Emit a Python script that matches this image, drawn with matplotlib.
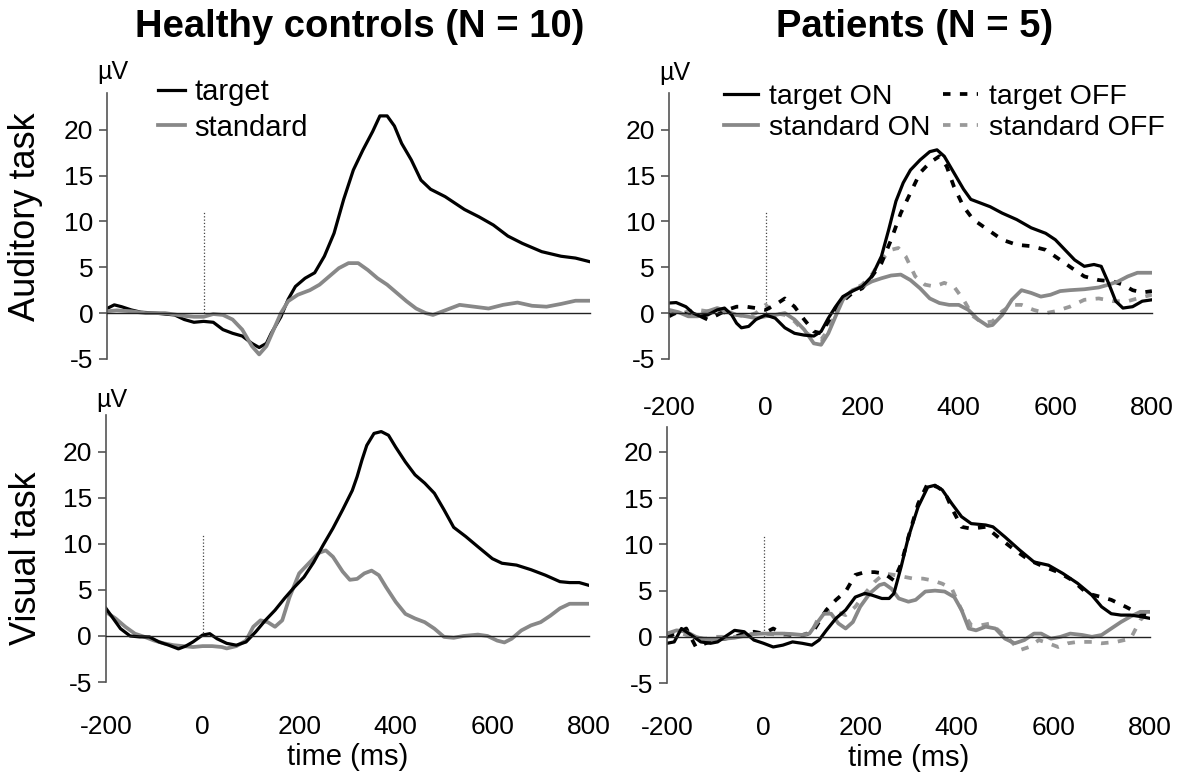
import numpy as np
import matplotlib
matplotlib.use("Agg")
import matplotlib.pyplot as plt
from matplotlib.ticker import FixedLocator
from matplotlib.lines import Line2D

plt.rcParams['font.family'] = ['Liberation Sans', 'DejaVu Sans']
plt.rcParams['axes.unicode_minus'] = False

# ================================
# Dados (µV)
# ================================

# Controles - tarefa auditiva
hc_aud_target_t = [-200, -185, -170, -150, -130, -100, -60, -40, -20, 0, 20, 40, 60, 80, 100, 115, 130,
                   140, 160, 175, 190, 210, 230, 250, 270, 290, 310, 330, 350, 365, 380, 395, 410, 430,
                   450, 470, 500, 520, 540, 570, 600, 630, 660, 700, 740, 770, 800]
hc_aud_target = [0.5, 0.9, 0.7, 0.35, 0.1, 0.0, -0.2, -0.7, -1.0, -0.9, -1.0, -1.8, -2.2, -2.5, -3.3, -3.75,
                 -3.3, -2.2, -0.4, 1.5, 2.9, 3.8, 4.4, 6.2, 8.7, 12.4, 15.6, 17.8, 19.8, 21.5, 21.5, 20.4,
                 18.5, 16.7, 14.5, 13.5, 12.7, 12.0, 11.3, 10.5, 9.6, 8.4, 7.6, 6.7, 6.2, 6.0, 5.6]
hc_aud_standard_t = [-200, -180, -150, -120, -80, -40, -20, 0, 20, 40, 60, 80, 100, 115, 130, 145, 160,
                     175, 195, 220, 240, 260, 280, 300, 320, 340, 360, 380, 400, 420, 440, 460, 475,
                     490, 510, 530, 560, 590, 620, 650, 680, 710, 740, 770, 800]
hc_aud_standard = [0.2, 0.3, 0.2, 0.0, 0.0, -0.3, -0.4, -0.4, -0.1, -0.2, -0.7, -1.8, -3.6, -4.5, -3.6,
                   -1.8, 0.0, 1.3, 2.0, 2.5, 3.1, 4.0, 4.9, 5.45, 5.45, 4.7, 3.8, 3.1, 2.2, 1.3, 0.5, 0.0,
                   -0.2, 0.1, 0.5, 0.9, 0.7, 0.5, 0.9, 1.15, 0.8, 0.7, 1.0, 1.35, 1.35]

# Controles - tarefa visual
hc_vis_target_t = [-200, -185, -170, -150, -130, -110, -90, -70, -50, -35, -20, 0, 15, 30, 50, 70, 90,
                   110, 130, 150, 170, 190, 210, 230, 250, 270, 290, 310, 320, 330, 340, 355, 370, 385,
                   400, 420, 440, 460, 480, 500, 520, 545, 570, 600, 620, 650, 680, 710, 740, 760, 780, 800]
hc_vis_target = [3.0, 1.9, 0.8, 0.0, -0.1, -0.1, -0.65, -1.0, -1.4, -1.1, -0.65, 0.1, 0.25, -0.3, -0.8,
                 -1.0, -0.65, 0.45, 1.7, 2.8, 4.1, 5.3, 6.4, 8.0, 9.9, 11.7, 13.7, 15.8, 17.3, 19.1, 20.7,
                 22.0, 22.2, 21.8, 20.5, 18.9, 17.5, 16.6, 15.5, 13.7, 11.8, 10.8, 9.7, 8.4, 7.9, 7.7,
                 7.2, 6.6, 5.9, 5.8, 5.8, 5.5]
hc_vis_standard_t = [-200, -180, -160, -140, -120, -100, -80, -60, -40, -20, 0, 20, 40, 50, 70, 90, 105,
                     120, 135, 150, 165, 180, 200, 220, 240, 255, 270, 290, 305, 320, 335, 350, 365, 380,
                     400, 420, 440, 460, 480, 500, 520, 540, 570, 590, 610, 625, 640, 660, 680, 700, 720,
                     740, 760, 800]
hc_vis_standard = [2.6, 1.9, 1.0, 0.25, -0.1, -0.5, -0.8, -1.0, -1.1, -1.2, -1.1, -1.1, -1.2, -1.35,
                   -1.1, -0.5, 1.0, 1.7, 1.5, 1.0, 1.7, 4.2, 6.8, 7.9, 9.0, 9.3, 8.6, 7.0, 6.1, 6.2, 6.8,
                   7.1, 6.6, 5.3, 3.7, 2.4, 1.9, 1.5, 0.8, -0.1, -0.2, 0.0, 0.15, 0.0, -0.5, -0.7, -0.3,
                   0.6, 1.15, 1.5, 2.2, 3.0, 3.5, 3.5]

# Pacientes - tarefa auditiva
pt_aud_target_on_t = [-200, -185, -165, -150, -135, -120, -100, -85, -70, -60, -50, -35, -20, 0, 20, 40,
                      60, 80, 100, 115, 130, 145, 160, 180, 200, 220, 240, 255, 270, 285, 300, 320, 340,
                      355, 370, 390, 410, 425, 445, 465, 490, 520, 550, 580, 600, 620, 640, 660, 680,
                      695, 710, 725, 740, 760, 780, 800]
pt_aud_target_on = [1.1, 1.15, 0.7, 0.0, -0.35, -0.2, 0.35, 0.55, -0.2, -1.1, -1.6, -1.45, -0.7, -0.2,
                    -0.55, -1.6, -2.2, -2.4, -2.5, -2.0, -0.55, 0.7, 1.8, 2.4, 2.9, 4.0, 6.2, 9.1, 12.2,
                    14.2, 15.6, 16.7, 17.6, 17.8, 17.1, 15.3, 13.5, 12.4, 12.0, 11.6, 10.9, 10.2, 9.3,
                    8.7, 8.0, 6.9, 5.8, 5.1, 5.3, 5.1, 3.3, 1.3, 0.55, 0.7, 1.3, 1.45]
pt_aud_standard_on_t = [-200, -180, -160, -140, -120, -100, -80, -60, -40, -20, 0, 20, 40, 60, 80, 100,
                        115, 130, 145, 160, 180, 200, 220, 240, 260, 280, 300, 320, 340, 360, 380, 400,
                        420, 440, 460, 470, 490, 510, 530, 550, 570, 590, 610, 630, 660, 690, 710, 730,
                        750, 770, 800]
pt_aud_standard_on = [0.35, 0.1, -0.35, -0.35, 0.2, 0.55, 0.2, -0.2, -0.35, -0.55, -0.35, -0.2, 0.0,
                      -0.7, -1.8, -3.3, -3.45, -2.2, -0.35, 1.45, 2.5, 2.9, 3.45, 3.8, 4.1, 4.2, 3.6, 2.7,
                      1.6, 1.1, 0.9, 0.9, 0.35, -0.7, -1.4, -1.3, -0.2, 1.45, 2.5, 2.2, 1.8, 2.0, 2.4,
                      2.5, 2.6, 2.8, 3.1, 3.45, 4.0, 4.4, 4.4]
pt_aud_target_off_t = [-200, -180, -160, -140, -120, -100, -80, -60, -40, -20, 0, 20, 40, 60, 80, 100,
                       115, 130, 145, 160, 180, 200, 220, 240, 260, 280, 300, 320, 340, 360, 375, 390,
                       410, 430, 460, 490, 520, 550, 580, 610, 640, 660, 690, 720, 740, 760, 780, 800]
pt_aud_target_off = [-0.35, 0.2, -0.2, -0.2, -0.7, -0.2, 0.35, 0.7, 0.7, 0.55, 0.35, 0.9, 1.6, 0.7,
                     -0.7, -2.0, -2.2, -0.9, 0.55, 1.3, 2.2, 2.7, 4.0, 5.45, 8.0, 10.9, 13.1, 15.3, 16.4,
                     17.1, 16.0, 13.8, 11.6, 10.2, 9.1, 8.0, 7.45, 7.3, 6.9, 5.8, 4.7, 4.0, 3.6, 3.45,
                     3.1, 2.5, 2.25, 2.4]
pt_aud_standard_off_t = [-200, -180, -160, -140, -120, -100, -80, -60, -40, -20, 0, 20, 40, 60, 80, 100,
                         115, 130, 145, 160, 180, 200, 220, 240, 260, 275, 290, 310, 330, 350, 370, 390,
                         410, 430, 450, 470, 490, 510, 530, 555, 580, 600, 630, 660, 690, 720, 750, 770,
                         800]
pt_aud_standard_off = [0.2, -0.2, 0.2, 0.35, 0.2, 0.2, 0.0, -0.2, -0.35, 0.0, 0.9, 0.0, -0.2, -0.9,
                       -2.0, -2.7, -2.9, -1.8, 0.0, 1.6, 2.5, 3.1, 4.2, 5.8, 6.9, 7.1, 6.2, 4.0, 3.1, 2.9,
                       3.3, 2.9, 1.45, -0.35, -1.1, -0.9, 0.2, 0.9, 0.9, 0.35, 0.0, 0.2, 0.7, 1.45, 1.6,
                       1.3, 1.3, 1.6, 2.0]

# Pacientes - tarefa visual
pt_vis_target_on_t = [-200, -185, -170, -150, -130, -110, -95, -80, -60, -40, -20, 0, 20, 40, 60, 80,
                      100, 115, 130, 150, 170, 190, 210, 225, 245, 260, 270, 285, 300, 320, 340, 355,
                      370, 390, 410, 430, 460, 475, 500, 530, 560, 590, 620, 650, 680, 700, 720, 740,
                      760, 780, 800]
pt_vis_target_on = [-0.7, -0.55, 0.9, 0.2, -0.55, -0.7, -0.55, 0.0, 0.7, 0.55, -0.35, -0.7, -1.1, -0.9,
                     -0.55, -0.7, -0.9, -0.35, 0.7, 2.0, 2.9, 4.3, 4.7, 4.5, 4.15, 4.15, 4.7, 7.6, 10.8,
                     14.05, 16.2, 16.4, 15.9, 14.4, 13.0, 12.25, 12.1, 11.9, 10.8, 9.4, 8.1, 7.75, 6.85,
                     5.8, 4.5, 3.25, 2.5, 2.35, 2.35, 2.2, 2.0]
pt_vis_standard_on_t = [-200, -180, -160, -140, -120, -100, -80, -60, -40, -20, 0, 20, 40, 60, 80, 95,
                        110, 125, 140, 155, 170, 185, 200, 220, 240, 250, 265, 280, 300, 315, 335, 355,
                        375, 395, 410, 425, 440, 460, 480, 500, 520, 540, 560, 575, 595, 615, 635, 660,
                        680, 700, 720, 740, 760, 780, 800]
pt_vis_standard_on = [0.35, 0.7, 0.55, 0.0, -0.3, -0.3, -0.2, -0.1, 0.1, 0.3, 0.35, 0.35, 0.35, 0.3,
                      0.2, 0.35, 1.45, 2.5, 2.5, 1.45, 0.9, 1.6, 3.25, 4.7, 5.6, 5.75, 5.2, 4.15, 3.8,
                      4.0, 4.9, 5.0, 4.9, 4.3, 2.9, 0.9, 0.7, 1.1, 0.9, -0.2, -0.7, -0.35, 0.35, 0.35,
                      -0.2, 0.0, 0.35, 0.2, 0.0, 0.2, 0.9, 1.6, 2.2, 2.7, 2.7]
pt_vis_target_off_t = [-200, -180, -160, -140, -120, -100, -80, -60, -40, -20, 0, 20, 40, 60, 80, 100,
                       130, 150, 170, 190, 210, 230, 250, 270, 285, 300, 320, 340, 360, 375, 390, 410,
                       430, 460, 490, 520, 550, 580, 610, 640, 670, 700, 720, 750, 770, 800]
pt_vis_target_off = [0.0, 0.35, 0.9, -1.1, -0.7, -0.35, -0.2, 0.0, 0.35, 0.55, 0.35, 0.9, 0.35, 0.2,
                     0.2, 0.35, 2.9, 4.0, 4.9, 6.7, 7.0, 7.0, 6.85, 6.1, 7.9, 10.8, 14.4, 16.6, 16.2,
                     15.7, 13.9, 11.9, 11.7, 11.9, 10.6, 9.4, 8.3, 7.6, 7.0, 6.1, 4.7, 4.3, 4.0, 3.25,
                     2.7, 2.2]
pt_vis_standard_off_t = [-200, -180, -160, -140, -120, -100, -80, -60, -40, -20, 0, 40, 80, 100, 115,
                         130, 150, 170, 190, 210, 230, 250, 270, 290, 310, 330, 350, 370, 390, 410, 430,
                         450, 470, 490, 510, 530, 550, 570, 590, 610, 630, 650, 680, 700, 730, 760, 780,
                         800]
pt_vis_standard_off = [0.35, 0.55, 0.2, -0.1, -0.2, 0.0, 0.0, 0.0, 0.2, 0.35, 0.35, 0.2, 0.2, 0.55, 2.2,
                       2.7, 2.7, 2.35, 3.25, 4.7, 5.95, 6.85, 6.7, 6.5, 6.3, 6.3, 6.1, 5.75, 5.2, 2.9,
                       1.25, 1.25, 1.45, 0.55, -0.35, -1.45, -1.1, -0.35, -0.7, -1.1, -0.7, -0.55, -0.55,
                       -0.7, -0.55, -0.2, 1.8, 2.9]

col_titles = ["Healthy controls (N = 10)", "Patients (N = 5)"]
row_titles = ["Auditory task", "Visual task"]
xticks = [-200, 0, 200, 400, 600, 800]
yticks = [-5, 0, 5, 10, 15, 20]

# ================================
# Figura
# ================================

BLACK = '#000000'
GRAY = '#888888'
GRAY_D = '#999999'
LW = 2.3

fig = plt.figure(figsize=(11.84, 7.76), dpi=100)

# posições [esq, base, larg, alt], topo do eixo y, pad dos rótulos de x, posição do "µV"
panels = [
    dict(rect=[0.0904, 0.5374, 0.4079, 0.3428], ytop=24.0, pad=None, uv=(0.012, 1.079)),
    dict(rect=[0.5650, 0.5374, 0.4079, 0.3428], ytop=24.0, pad=60, uv=(0.012, 1.075)),
    dict(rect=[0.0895, 0.1211, 0.4079, 0.3441], ytop=24.0, pad=57, uv=(0.012, 1.056)),
    dict(rect=[0.5633, 0.1198, 0.4079, 0.3299], ytop=22.7, pad=57, uv=None),
]

axes = []
for p in panels:
    ax = fig.add_axes(p['rect'])
    ax.set_xlim(-200, 800)
    ax.set_ylim(-5, p['ytop'])
    for s in ['top', 'right']:
        ax.spines[s].set_visible(False)
    ax.spines['left'].set_color('#555555')
    ax.spines['left'].set_linewidth(1.2)
    ax.spines['bottom'].set_position(('data', 0))
    ax.spines['bottom'].set_color('#222222')
    ax.spines['bottom'].set_linewidth(1.0)
    ax.set_yticks(yticks)
    ax.set_yticklabels([str(v) for v in yticks])
    ax.tick_params(axis='y', length=6, width=1.2, color='#555555', labelsize=19, pad=4)
    ax.xaxis.set_major_locator(FixedLocator(xticks))
    ax.xaxis.set_minor_locator(FixedLocator(xticks[2:]))
    ax.tick_params(axis='x', which='minor', length=6, width=1.0, color='#222222', direction='out')
    if p['pad'] is None:
        ax.tick_params(axis='x', which='major', length=0, labelbottom=False)
    else:
        ax.tick_params(axis='x', which='major', length=0, labelsize=19, pad=p['pad'])
    ax.vlines(0, 0, 11, colors='#444444', linestyles=':', linewidth=0.9)
    if p['uv'] is not None:
        ax.text(p['uv'][0], p['uv'][1], 'µV', transform=ax.transAxes, ha='center', va='center',
                fontsize=18)
    axes.append(ax)

ax_ha, ax_pa, ax_hv, ax_pv = axes

ax_ha.plot(hc_aud_target_t, hc_aud_target, color=BLACK, lw=LW, label='target')
ax_ha.plot(hc_aud_standard_t, hc_aud_standard, color=GRAY, lw=LW + 0.4, label='standard')

ax_hv.plot(hc_vis_standard_t, hc_vis_standard, color=GRAY, lw=LW + 0.4)
ax_hv.plot(hc_vis_target_t, hc_vis_target, color=BLACK, lw=LW)

dash = (0, (2.0, 2.5))
ax_pa.plot(pt_aud_standard_off_t, pt_aud_standard_off, color=GRAY_D, lw=LW + 0.4, ls=dash)
ax_pa.plot(pt_aud_target_off_t, pt_aud_target_off, color=BLACK, lw=LW + 0.4, ls=dash)
ax_pa.plot(pt_aud_standard_on_t, pt_aud_standard_on, color=GRAY, lw=LW + 0.4)
ax_pa.plot(pt_aud_target_on_t, pt_aud_target_on, color=BLACK, lw=LW)

ax_pv.plot(pt_vis_standard_off_t, pt_vis_standard_off, color=GRAY_D, lw=LW + 0.4, ls=dash)
ax_pv.plot(pt_vis_target_off_t, pt_vis_target_off, color=BLACK, lw=LW + 0.4, ls=dash)
ax_pv.plot(pt_vis_standard_on_t, pt_vis_standard_on, color=GRAY, lw=LW + 0.4)
ax_pv.plot(pt_vis_target_on_t, pt_vis_target_on, color=BLACK, lw=LW)

# Legendas
ax_ha.legend(loc='upper left', bbox_to_anchor=(0.105, 1.055), frameon=False, fontsize=21,
             handlelength=0.95, handletextpad=0.3, labelspacing=0.25, borderpad=0,
             borderaxespad=0)

h_pt = [Line2D([], [], color=BLACK, lw=LW),
        Line2D([], [], color=GRAY, lw=LW + 0.4),
        Line2D([], [], color=BLACK, lw=LW + 0.4, ls=dash),
        Line2D([], [], color=GRAY_D, lw=LW + 0.4, ls=dash)]
ax_pa.legend(h_pt, ['target ON', 'standard ON', 'target OFF', 'standard OFF'], ncol=2,
             loc='upper left', bbox_to_anchor=(0.113, 1.035), frameon=False, fontsize=20.5,
             handlelength=1.2, handletextpad=0.4, labelspacing=0.2, columnspacing=0.45,
             borderpad=0, borderaxespad=0)

# Títulos
fig.text(360 / 1184, 1 - 27 / 776, col_titles[0], ha='center', va='center', fontsize=27.5,
         fontweight='bold')
fig.text(915 / 1184, 1 - 27 / 776, col_titles[1], ha='center', va='center', fontsize=27.5,
         fontweight='bold')
fig.text(26 / 1184, 1 - 217 / 776, row_titles[0], ha='center', va='center', fontsize=26,
         rotation=90)
fig.text(26 / 1184, 1 - 558 / 776, row_titles[1], ha='center', va='center', fontsize=26,
         rotation=90)

for ax in (ax_hv, ax_pv):
    ax.set_xlabel('time (ms)', fontsize=21, labelpad=3)

fig.savefig('out.png', dpi=100)
